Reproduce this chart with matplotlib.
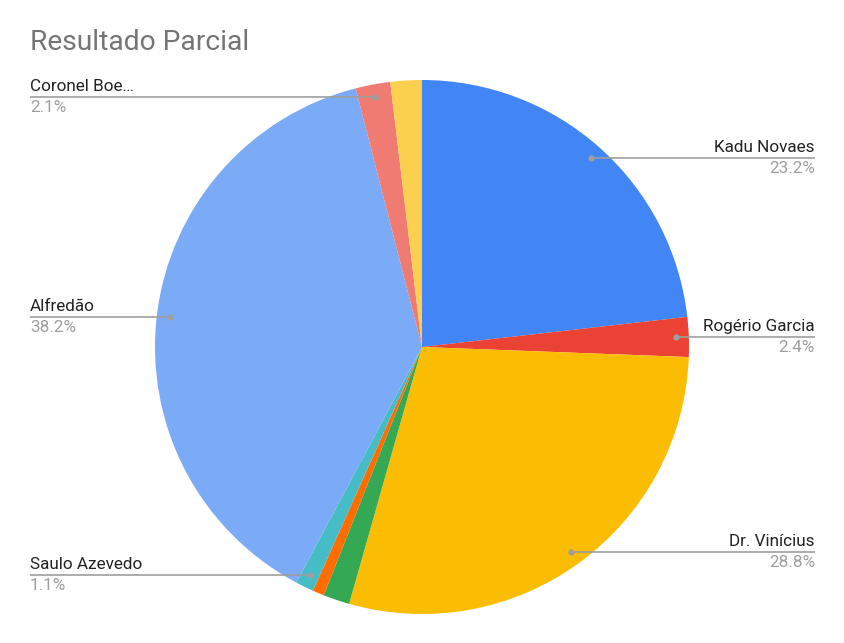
import numpy as np
import matplotlib
matplotlib.use("Agg")
from matplotlib import pyplot as plt

plt.rcParams['font.family'] = ['Roboto', 'DejaVu Sans']

# slices, clockwise from 12 o'clock
names = ["Kadu Novaes", "Rogério Garcia", "Dr. Vinícius", "", "",
         "Saulo Azevedo", "Alfredão", "Coronel Boe…", ""]
shares = [23.2, 2.4, 28.8, 1.6, 0.7, 1.1, 38.2, 2.1, 1.9]
colors = ["#4285F4", "#EA4335", "#FBBC04", "#34A853", "#FF6D01",
          "#46BDC6", "#7BAAF7", "#F07B72", "#FCD04F"]

W, H = 845, 643
fig = plt.figure(figsize=(W / 100, H / 100), dpi=100)
ax = fig.add_axes([0, 0, 1, 1])
ax.set_xlim(0, W)
ax.set_ylim(H, 0)
ax.set_aspect('equal')
ax.axis('off')

cx, cy, r = 422, 347, 267
wedges, _ = ax.pie(shares, colors=colors, center=(cx, cy), radius=r,
                   startangle=-90, counterclock=True,
                   wedgeprops=dict(linewidth=0))
ax.set_xlim(0, W)
ax.set_ylim(H, 0)

ax.text(30, 43, "Resultado Parcial", fontsize=20.3, color="#757575",
        va='center', ha='left')

line_c = "#9E9E9E"
for w, name, s in zip(wedges, names, shares):
    if not name:
        continue
    ang = np.deg2rad((w.theta1 + w.theta2) / 2)
    dx = cx + 254 * np.cos(ang)
    dy = cy + 254 * np.sin(ang)
    right = dx > cx
    x_end = 815 if right else 30
    ha = 'right' if right else 'left'
    ax.plot([dx, x_end], [dy, dy], color=line_c, lw=1.2, solid_capstyle='butt')
    ax.plot(dx, dy, 'o', ms=4.5, color=line_c, mec='none')
    ax.text(x_end, dy - 3, name, fontsize=12.3, color="#222222",
            ha=ha, va='bottom')
    ax.text(x_end, dy + 3, f"{s:.1f}%", fontsize=12.3, color="#9E9E9E",
            ha=ha, va='top')

fig.savefig("out.png", dpi=100, facecolor='white')
